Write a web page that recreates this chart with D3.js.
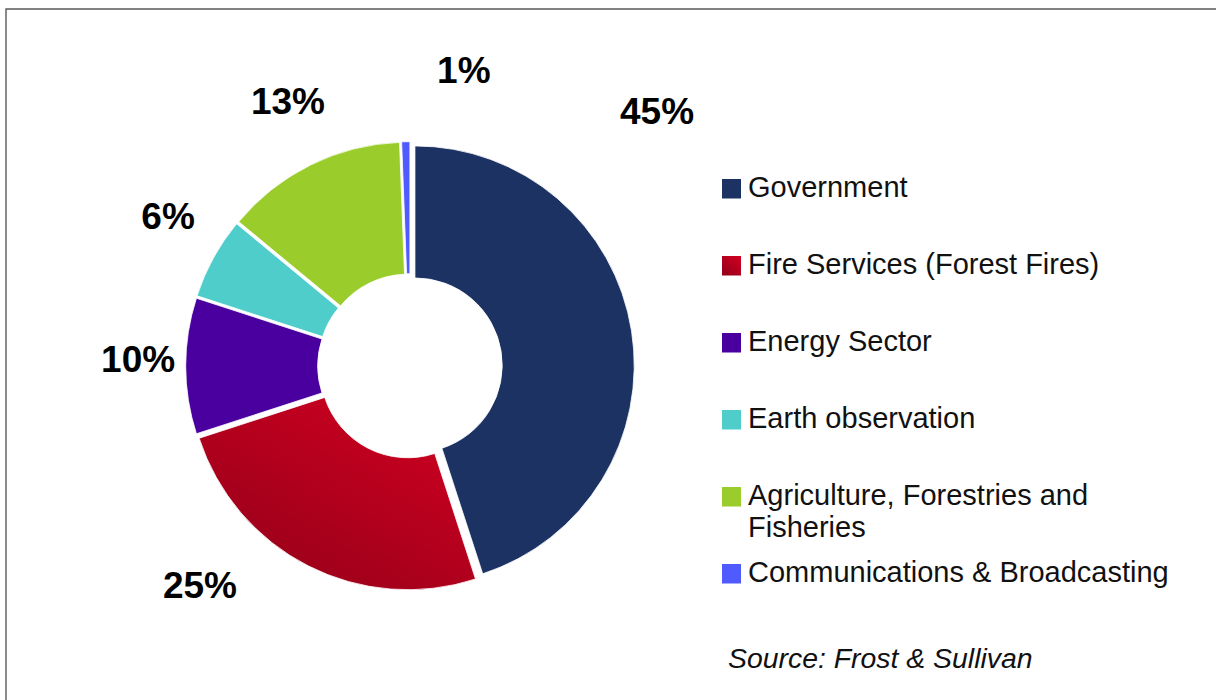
<!DOCTYPE html>
<html>
<head>
<meta charset="utf-8">
<script src="https://cdn.jsdelivr.net/npm/d3@7"></script>
<style>
  html, body { margin: 0; padding: 0; background: #fff; }
  svg { display: block; }
</style>
</head>
<body>
<svg id="chart" width="1216" height="700"></svg>
<script>
// ---- data ----
const categories = [
  "Government",
  "Fire Services (Forest Fires)",
  "Energy Sector",
  "Earth observation",
  "Agriculture, Forestries and Fisheries",
  "Communications & Broadcasting"
];
const shares = [45, 25, 10, 6, 13.4, 0.6];
const shareLabels = ["45%", "25%", "10%", "6%", "13%", "1%"];
const legendLines = [
  ["Government"],
  ["Fire Services (Forest Fires)"],
  ["Energy Sector"],
  ["Earth observation"],
  ["Agriculture, Forestries and", "Fisheries"],
  ["Communications & Broadcasting"]
];
const sourceText = "Source: Frost & Sullivan";

// ---- style / layout ----
const colors = ["#1c3262", "url(#fireGrad)", "#4a009f", "#4fcdca", "#9acd2b", "#4f5aff"];
const W = 1216, H = 700;
const cx = 410, cy = 366;
const outerR = 219.3, innerR = 87.3, explode = 5;
// label placement (polar, degrees clockwise from 12 o'clock, radius from pie centre)
const labelAngle = [44.1, 223.9, 271.6, 301.9, 335.3, 10.3];
const labelRadius = [355, 303, 272, 285, 292, 301];

const svg = d3.select("#chart");

const defs = svg.append("defs");
const g1 = defs.append("linearGradient").attr("id", "fireGrad")
  .attr("x1", "0.85").attr("y1", "0.1").attr("x2", "0.15").attr("y2", "0.95");
g1.append("stop").attr("offset", "0").attr("stop-color", "#cc0020");
g1.append("stop").attr("offset", "1").attr("stop-color", "#96001a");

// frame
svg.append("path")
  .attr("d", d3.line()([[6, H], [6, 9], [W, 9]]))
  .attr("fill", "none").attr("stroke", "#5a5a5a").attr("stroke-width", 1.4);

const pie = d3.pie().sort(null).value(d => d).startAngle(0).endAngle(2 * Math.PI);
const arcs = pie(shares);
const arc = d3.arc().innerRadius(innerR).outerRadius(outerR);

const pieG = svg.append("g").attr("transform", `translate(${cx},${cy})`);
pieG.selectAll("path.slice")
  .data(arcs)
  .join("path")
  .attr("class", "slice")
  .attr("d", arc)
  .attr("fill", (d, i) => colors[i])
  .attr("stroke", "#fff")
  .attr("stroke-width", 0.8)
  .attr("transform", d => {
    const m = (d.startAngle + d.endAngle) / 2;
    return `translate(${explode * Math.sin(m)},${-explode * Math.cos(m)})`;
  });

// percentage labels
pieG.selectAll("text.pct")
  .data(arcs)
  .join("text")
  .attr("class", "pct")
  .attr("x", (d, i) => labelRadius[i] * Math.sin(labelAngle[i] * Math.PI / 180))
  .attr("y", (d, i) => -labelRadius[i] * Math.cos(labelAngle[i] * Math.PI / 180))
  .attr("dy", "0.36em")
  .attr("text-anchor", "middle")
  .attr("font-family", "'Liberation Sans', Arial, sans-serif")
  .attr("font-weight", "bold")
  .attr("font-size", 37)
  .attr("fill", "#000")
  .text((d, i) => shareLabels[i]);

// legend
const legendY = d3.scalePoint().domain(d3.range(categories.length)).range([197, 582]);
const legend = svg.append("g");
const items = legend.selectAll("g.item")
  .data(categories)
  .join("g")
  .attr("class", "item")
  .attr("transform", (d, i) => `translate(722,${legendY(i)})`);
items.append("rect")
  .attr("x", 0).attr("y", -18).attr("width", 19).attr("height", 19.5)
  .attr("fill", (d, i) => colors[i]);
items.append("text")
  .attr("x", 26)
  .attr("font-family", "'Liberation Sans', Arial, sans-serif")
  .attr("font-size", 29)
  .attr("fill", "#111")
  .selectAll("tspan")
  .data((d, i) => legendLines[i])
  .join("tspan")
  .attr("x", 26)
  .attr("dy", (t, j) => j === 0 ? 0 : 32)
  .text(t => t);

// source
svg.append("text")
  .attr("x", 728).attr("y", 668)
  .attr("font-family", "'Liberation Sans', Arial, sans-serif")
  .attr("font-style", "italic")
  .attr("font-size", 28.4)
  .attr("fill", "#111")
  .text(sourceText);
</script>
</body>
</html>
